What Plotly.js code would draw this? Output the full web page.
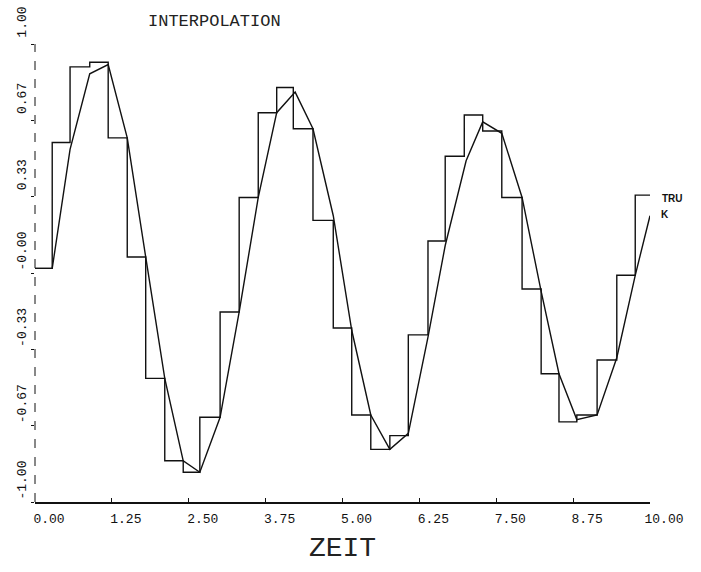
<!DOCTYPE html>
<html>
<head>
<meta charset="utf-8">
<script src="https://cdn.plot.ly/plotly-3.0.1.min.js"></script>
<style>html,body{margin:0;padding:0;background:#fff;}#chart{width:701px;height:572px;}</style>
</head>
<body>
<div id="chart"></div>
<script>
// Sample times (ZEIT) and values of the held signal "TRU"
const tTru = [0.00, 0.28, 0.57, 0.89, 1.19, 1.50, 1.80, 2.11, 2.41, 2.68, 3.01, 3.32, 3.63, 3.93, 4.20, 4.52, 4.85, 5.15, 5.46, 5.77, 6.07, 6.39, 6.67, 6.98, 7.28, 7.59, 7.92, 8.23, 8.52, 8.81, 9.14, 9.46, 9.76, 10.00];
const vTru = [0.02, 0.02, 0.57, 0.90, 0.92, 0.59, 0.07, -0.46, -0.82, -0.87, -0.63, -0.17, 0.33, 0.70, 0.81, 0.63, 0.23, -0.24, -0.62, -0.77, -0.71, -0.27, 0.14, 0.51, 0.69, 0.62, 0.33, -0.07, -0.44, -0.65, -0.62, -0.38, -0.01, 0.34];
// Linearly interpolated curve "K"
const tK = [0.00, 0.28, 0.57, 0.89, 1.19, 1.50, 1.80, 2.11, 2.41, 2.68, 3.01, 3.32, 3.63, 3.93, 4.23, 4.52, 4.85, 5.15, 5.46, 5.77, 6.07, 6.39, 6.67, 7.01, 7.28, 7.59, 7.92, 8.23, 8.52, 8.81, 9.14, 9.46, 9.76, 10.00];
const vK = [0.02, 0.02, 0.54, 0.87, 0.91, 0.59, 0.07, -0.46, -0.82, -0.87, -0.63, -0.17, 0.33, 0.70, 0.79, 0.63, 0.25, -0.25, -0.62, -0.77, -0.70, -0.28, 0.12, 0.49, 0.66, 0.61, 0.33, -0.08, -0.44, -0.64, -0.62, -0.37, -0.01, 0.25];
const seriesNames = ["TRU", "K"];
const xTickVals = [0, 1.25, 2.5, 3.75, 5, 6.25, 7.5, 8.75, 10];
const xTickText = ["0.00", "1.25", "2.50", "3.75", "5.00", "6.25", "7.50", "8.75", "10.00"];
const yTickVals = [1, 2/3, 1/3, 0, -1/3, -2/3, -1];
const yTickText = ["1.00", "0.67", "0.33", "-0.00", "-0.33", "-0.67", "-1.00"];

const font = "Liberation Mono, DejaVu Sans Mono, monospace";
const traces = [
  {x: tTru, y: vTru, name: seriesNames[0], mode: "lines", line: {color: "#111", width: 1.4, shape: "vh"}},
  {x: tK, y: vK, name: seriesNames[1], mode: "lines", line: {color: "#111", width: 1.4}}
];
const layout = {
  width: 701, height: 572,
  margin: {l: 35, r: 51, t: 44, b: 70},
  paper_bgcolor: "#fff", plot_bgcolor: "#fff",
  showlegend: false,
  title: {text: "INTERPOLATION", font: {family: font, size: 17, color: "#222"}, xref: "container", x: 148/701, xanchor: "left", yref: "container", y: 1 - 20/572, yanchor: "middle"},
  xaxis: {
    range: [0, 10], tickvals: xTickVals, ticktext: xTickText,
    ticks: "inside", ticklen: 4, tickcolor: "#111", tickwidth: 1,
    showline: true, linecolor: "#111", linewidth: 1.8,
    showgrid: false, zeroline: false, ticklabelshift: 14, ticklabelstandoff: 4,
    tickfont: {family: font, size: 13, color: "#111"},
    title: {text: "ZEIT", font: {family: font, size: 28, color: "#222"}, standoff: 10}
  },
  yaxis: {
    range: [-1, 1], tickvals: yTickVals, ticktext: yTickText,
    ticks: "outside", ticklen: 3, tickcolor: "#111", tickwidth: 1,
    showline: false, showgrid: false, zeroline: false,
    tickangle: -90, ticklabelshift: -20,
    tickfont: {family: font, size: 13, color: "#111"}
  },
  shapes: [
    {type: "line", xref: "paper", yref: "paper", x0: 0, x1: 0, y0: 0, y1: 1, line: {color: "#111", width: 1, dash: "dash"}}
  ],
  annotations: [
    {x: tTru[tTru.length-1], y: vTru[vTru.length-1], xref: "x", yref: "y", text: "<b>" + seriesNames[0] + "</b>", showarrow: false, xanchor: "left", xshift: 10, yshift: -3, font: {family: "Liberation Sans, Arial", size: 10, color: "#111"}},
    {x: tK[tK.length-1], y: vK[vK.length-1], xref: "x", yref: "y", text: "<b>" + seriesNames[1] + "</b>", showarrow: false, xanchor: "left", xshift: 9, yshift: 1, font: {family: "Liberation Sans, Arial", size: 10, color: "#111"}}
  ]
};
Plotly.newPlot("chart", traces, layout, {displayModeBar: false, staticPlot: true});
</script>
</body>
</html>
